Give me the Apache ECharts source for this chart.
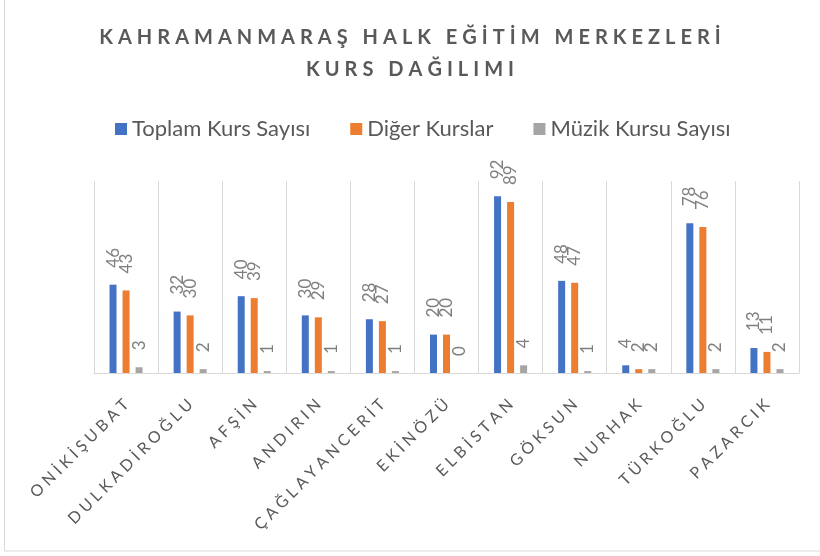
<!DOCTYPE html>
<html>
<head>
<meta charset="utf-8">
<script src="https://cdn.jsdelivr.net/npm/echarts@6/dist/echarts.min.js"></script>
<style>
  html, body { margin: 0; padding: 0; background: #ffffff; }
  #chart { width: 820px; height: 556px; }
</style>
</head>
<body>
<div id="chart"></div>
<script>
// District names (x axis)
const categories = ['ONİKİŞUBAT', 'DULKADİROĞLU', 'AFŞİN', 'ANDIRIN', 'ÇAĞLAYANCERİT',
  'EKİNÖZÜ', 'ELBİSTAN', 'GÖKSUN', 'NURHAK', 'TÜRKOĞLU', 'PAZARCIK'];

// Course counts per district
const toplamKurs = [46, 32, 40, 30, 28, 20, 92, 48, 4, 78, 13];
const digerKurslar = [43, 30, 39, 29, 27, 20, 89, 47, 2, 76, 11];
const muzikKursu = [3, 2, 1, 1, 1, 0, 4, 1, 2, 2, 2];

const seriesNames = ['Toplam Kurs Sayısı', 'Diğer Kurslar', 'Müzik Kursu Sayısı'];
const titleLines = ['KAHRAMANMARAŞ HALK EĞİTİM MERKEZLERİ', 'KURS DAĞILIMI'];

// Spread letters apart with narrow spaces to get tracked capitals
function tracked(str, gap) {
  return str.split('').join(gap);
}

const chart = echarts.init(document.getElementById('chart'));

const labelStyle = {
  show: true,
  position: 'top',
  rotate: 90,
  align: 'left',
  verticalAlign: 'middle',
  distance: 17,
  color: '#7f7f7f',
  fontFamily: 'Lato',
  fontSize: 17
};

const colors = ['#4472C4', '#ED7D31', '#A5A5A5'];
const data = [toplamKurs, digerKurslar, muzikKursu];

chart.setOption({
  animation: false,
  backgroundColor: '#ffffff',
  title: {
    text: titleLines.map(l => tracked(l, '\u2009\u200A\u200A')).join('\n'),
    left: 'center',
    top: 17,
    textStyle: {
      fontFamily: 'Lato',
      fontWeight: 'bold',
      fontSize: 20,
      color: '#595959',
      lineHeight: 32
    }
  },
  legend: {
    top: 113,
    left: 110,
    itemWidth: 12,
    itemHeight: 12,
    itemGap: 40,
    icon: 'rect',
    textStyle: { fontFamily: 'Lato', fontSize: 22, color: '#595959' },
    data: seriesNames
  },
  grid: { left: 94, right: 21, top: 181, bottom: 183, containLabel: false },
  xAxis: {
    type: 'category',
    data: categories,
    axisLine: { lineStyle: { color: '#d9d9d9', width: 1 } },
    axisTick: { show: false },
    splitLine: { show: true, lineStyle: { color: '#d9d9d9', width: 1 } },
    axisLabel: {
      interval: 0,
      rotate: 45,
      margin: 29,
      color: '#595959',
      fontFamily: 'Lato',
      fontSize: 16,
      formatter: v => tracked(v, '\u2009\u2009')
    }
  },
  yAxis: {
    type: 'value',
    min: 0,
    max: 100,
    show: false,
    splitLine: { show: false }
  },
  series: seriesNames.map((name, i) => ({
    name: name,
    type: 'bar',
    data: data[i],
    barWidth: 7,
    barGap: '86%',
    itemStyle: { color: colors[i] },
    label: labelStyle
  })),
  graphic: [{
    type: 'rect',
    shape: { x: 4.5, y: -10, width: 840, height: 561 },
    style: { fill: null, stroke: '#d9d9d9', lineWidth: 1 },
    silent: true
  }]
});
</script>
</body>
</html>
